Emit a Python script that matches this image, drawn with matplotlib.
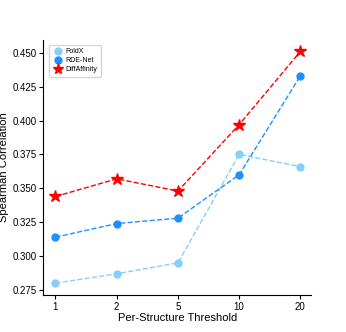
import matplotlib
matplotlib.use("Agg")
import matplotlib.pyplot as plt
from matplotlib.lines import Line2D

plt.rcParams["font.family"] = ["Liberation Sans", "DejaVu Sans"]

thresholds = ["1", "2", "5", "10", "20"]
foldx = [0.280, 0.287, 0.295, 0.375, 0.366]
rde_net = [0.314, 0.324, 0.328, 0.360, 0.433]
diffaffinity = [0.344, 0.357, 0.348, 0.397, 0.451]

x = list(range(len(thresholds)))

fig, ax = plt.subplots(figsize=(3.46, 3.32), dpi=100)

ax.plot(x, foldx, "--o", color="lightskyblue", lw=1, ms=5)
ax.plot(x, rde_net, "--o", color="dodgerblue", lw=1, ms=5)
ax.plot(x, diffaffinity, "--*", color="red", lw=1, ms=9)

handles = [
    Line2D([], [], ls="none", marker="o", color="lightskyblue", ms=5, label="FoldX"),
    Line2D([], [], ls="none", marker="o", color="dodgerblue", ms=5, label="RDE-Net"),
    Line2D([], [], ls="none", marker="*", color="red", ms=8, label="DiffAffinity"),
]

ax.set_xticks(x)
ax.set_xticklabels(thresholds)
ax.set_xlim(-0.2, 4.18)
ax.set_yticks([0.275, 0.300, 0.325, 0.350, 0.375, 0.400, 0.425, 0.450])
ax.yaxis.set_major_formatter(matplotlib.ticker.FormatStrFormatter("%.3f"))
ax.tick_params(labelsize=7, length=3, pad=2)
ax.set_xlabel("Per-Structure Threshold", fontsize=8, labelpad=1)
ax.set_ylabel("Spearman Correlation", fontsize=8, labelpad=2)
ax.spines["top"].set_visible(False)
ax.spines["right"].set_visible(False)
ax.legend(handles=handles, loc="upper left", bbox_to_anchor=(0.01, 0.995), fontsize=5,
          handletextpad=0.3, borderpad=0.5, labelspacing=0.3, handlelength=1.5)

fig.subplots_adjust(left=0.125, right=0.9, top=0.88, bottom=0.112)
fig.savefig("out.png", dpi=100)
